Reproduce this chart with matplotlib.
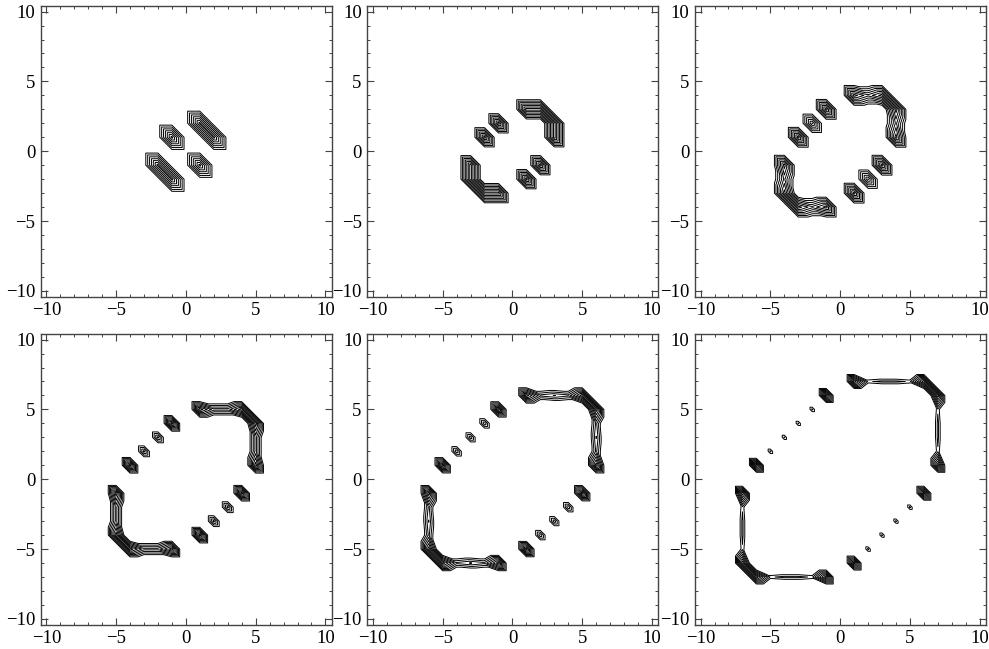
import numpy as np
import matplotlib
matplotlib.use("Agg")
import matplotlib.pyplot as plt
import matplotlib.tri as mtri
from matplotlib.ticker import MultipleLocator

plt.rcParams["font.family"] = ["Liberation Serif", "DejaVu Serif"]

# lattice values (panel n = 1..6)
# dots run from (-n, 1) up to (-1, n); mirrored through the origin
dots_1 = [1.0]
dots_2 = [1.0, 1.0]
dots_3 = [1.0, 0.85, 1.0]
dots_4 = [1.0, 0.72, 0.72, 1.0]
dots_5 = [1.0, 0.68, 0.67, 0.68, 1.0]
dots_6 = [1.0, 0.595, 0.59, 0.59, 0.595, 1.0]

# ridge: (k, n+1) for k = 1..n and (n+1, k) for k = 1..n; mirrored through the origin
ridge_1 = [1.0]
ridge_2 = [1.0, 1.0]
ridge_3 = [1.0, 0.76, 1.0]
ridge_4 = [1.0, 0.73, 0.73, 1.0]
ridge_5 = [1.0, 0.64, 0.70, 0.64, 1.0]
ridge_6 = [1.0, 0.56, 0.60, 0.60, 0.56, 1.0]

# lowest / highest contour level as a fraction of the panel maximum
level_lo = [0.13, 0.31, 0.29, 0.44, 0.45, 0.50]
level_hi = [0.94, 0.94, 0.94, 0.94, 0.94, 0.94]

panels = [
    (dots_1, ridge_1),
    (dots_2, ridge_2),
    (dots_3, ridge_3),
    (dots_4, ridge_4),
    (dots_5, ridge_5),
    (dots_6, ridge_6),
]

grid = np.arange(-10, 11)
ticks = [-10, -5, 0, 5, 10]
n_contours = 7

X, Y = np.meshgrid(grid, grid)
N = len(grid)

# split every cell along its NW-SE diagonal
triangles = []
for j in range(N - 1):
    for i in range(N - 1):
        a = j * N + i
        b = j * N + i + 1
        c = (j + 1) * N + i
        d = (j + 1) * N + i + 1
        triangles.append([a, b, c])
        triangles.append([b, d, c])
tri = mtri.Triangulation(X.ravel(), Y.ravel(), triangles)


def build_field(dots, ridge):
    n = len(dots)
    Z = np.zeros((N, N))

    def put(x, y, v):
        Z[y + 10, x + 10] = v
        Z[-y + 10, -x + 10] = v

    for k, v in enumerate(dots, start=1):
        put(-(n + 1 - k), k, v)
    for k, v in enumerate(ridge, start=1):
        put(k, n + 1, v)
        put(n + 1, k, v)
    return Z


fig = plt.figure(figsize=(9.89, 6.49), dpi=100)
W, H = 989, 649
lefts = [40.7, 367.3, 695]
tops = [6, 334]
aw, ah = 291, 290.5

for idx, (dots, ridge) in enumerate(panels):
    r, c = divmod(idx, 3)
    ax = fig.add_axes([lefts[c] / W, 1 - (tops[r] + ah) / H, aw / W, ah / H])
    Z = build_field(dots, ridge)
    zmax = Z.max()
    levels = zmax * np.linspace(level_lo[idx], level_hi[idx], n_contours)
    ax.tricontour(tri, Z.ravel(), levels=levels, colors="black", linewidths=0.7)
    ax.set_xlim(-10.4, 10.45)
    ax.set_ylim(-10.4, 10.4)
    ax.set_xticks(ticks)
    ax.set_yticks(ticks)
    ax.xaxis.set_minor_locator(MultipleLocator(1))
    ax.yaxis.set_minor_locator(MultipleLocator(1))
    ax.tick_params(which="both", direction="in", top=True, right=True,
                   color="#444444", labelsize=13.5, pad=4)
    ax.tick_params(which="major", length=5, width=0.8)
    ax.tick_params(which="minor", length=2.5, width=0.7)
    for s in ax.spines.values():
        s.set_color("#444444")
        s.set_linewidth(1.0)

fig.savefig("out.png", dpi=100)
